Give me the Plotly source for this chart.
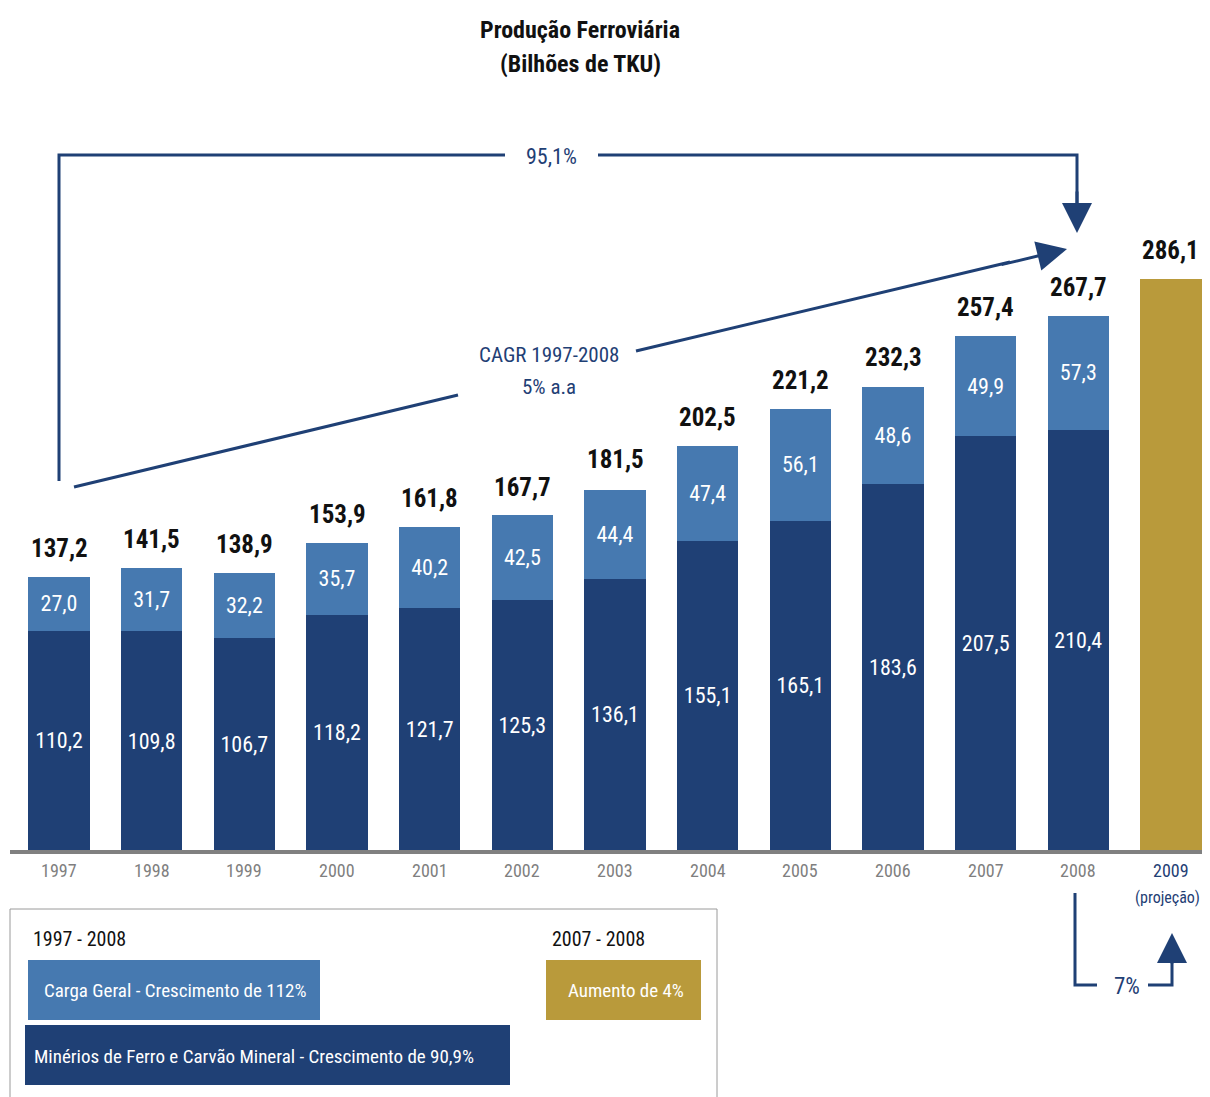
import plotly.graph_objects as go

years = ["1997", "1998", "1999", "2000", "2001", "2002", "2003", "2004",
         "2005", "2006", "2007", "2008", "2009"]
minerios = [110.2, 109.8, 106.7, 118.2, 121.7, 125.3, 136.1, 155.1,
            165.1, 183.6, 207.5, 210.4]
carga = [27.0, 31.7, 32.2, 35.7, 40.2, 42.5, 44.4, 47.4, 56.1, 48.6, 49.9, 57.3]
totais = [137.2, 141.5, 138.9, 153.9, 161.8, 167.7, 181.5, 202.5,
          221.2, 232.3, 257.4, 267.7, 286.1]
projecao = [286.1]

NAVY = "#1f4075"
LIGHT = "#4679b0"
GOLD = "#b99a3b"
GRAY = "#7f7f7f"
FONT = "Roboto Condensed, Open Sans Condensed, Roboto, sans-serif"

OFF = 8                      # page body margin
W, H = 1210 - OFF, 1097 - OFF
L_REF, T_REF, B_REF, R_REF = 10, 8, 851, 1210


def fmt(v):
    return f"{v:.1f}".replace(".", ",")


def px(x):
    return (x - L_REF) / (R_REF - L_REF)


def py(y):
    return (B_REF - y) / (B_REF - T_REF)


idx = list(range(len(years)))
fig = go.Figure()

fig.add_bar(x=idx[:12], y=minerios, marker_color=NAVY, width=0.66,
            marker_line_width=0,
            text=[fmt(v) for v in minerios], textposition="inside",
            insidetextanchor="middle", textangle=0,
            textfont=dict(family=FONT, size=22, color="white"),
            hoverinfo="skip", name="Minérios")
fig.add_bar(x=idx[:12], y=carga, marker_color=LIGHT, width=0.66,
            marker_line_width=0,
            text=[fmt(v) for v in carga], textposition="inside",
            insidetextanchor="middle", textangle=0,
            textfont=dict(family=FONT, size=22, color="white"),
            hoverinfo="skip", name="Carga")
fig.add_bar(x=[12], y=projecao, marker_color=GOLD, width=0.66,
            marker_line_width=0, hoverinfo="skip", name="Projeção")

ann = []


def label(x, y, text, size, color, xanchor="center", bold=False):
    t = f"<b>{text}</b>" if bold else text
    return dict(x=px(x), y=py(y), xref="paper", yref="paper", text=t,
                showarrow=False, xanchor=xanchor, yanchor="middle",
                font=dict(family=FONT, size=size, color=color))


# totals above bars
for i, t in enumerate(totais):
    ann.append(dict(x=i, y=t, xref="x", yref="y", text=f"<b>{fmt(t)}</b>",
                    showarrow=False, yanchor="bottom", yshift=12,
                    font=dict(family=FONT, size=25, color="#111111")))
# year labels
for i, yr in enumerate(years):
    col = NAVY if yr == "2009" else GRAY
    ann.append(dict(x=i, y=py(871), xref="x", yref="paper", text=yr,
                    showarrow=False, yanchor="middle",
                    font=dict(family=FONT, size=18, color=col)))
ann.append(dict(x=12, y=py(898), xref="x", yref="paper", text="(projeção)",
                showarrow=False, yanchor="middle", xshift=-3,
                font=dict(family=FONT, size=16, color=NAVY)))

# title
ann.append(label(580, 30, "Produção Ferroviária", 24, "#111111", bold=True))
ann.append(label(580, 64, "(Bilhões de TKU)", 24, "#111111", bold=True))

# growth labels
ann.append(label(551, 156, "95,1%", 22, NAVY))
ann.append(label(549, 355, "CAGR 1997-2008", 21, NAVY))
ann.append(label(549, 387, "5% a.a", 21, NAVY))
ann.append(label(1127, 987, "7%", 23, NAVY))


def arrow(hx, hy, tx, ty, size=2.0):
    return dict(x=px(hx), y=py(hy), xref="paper", yref="paper",
                ax=tx - hx, ay=ty - hy, axref="pixel", ayref="pixel",
                text="", showarrow=True, arrowhead=2, arrowsize=size,
                arrowwidth=3, arrowcolor=NAVY, standoff=0, startstandoff=0)


ann.append(arrow(1077, 233, 1077, 190))
ann.append(arrow(1067, 249, 1000, 265))
ann.append(arrow(1172, 933, 1172, 965))

# legend texts
ann.append(label(31, 939, "1997 - 2008", 20, "#111111", xanchor="left"))
ann.append(label(550, 939, "2007 - 2008", 20, "#111111", xanchor="left"))
ann.append(label(42, 991, "Carga Geral - Crescimento de 112%", 19, "white",
                 xanchor="left"))
ann.append(label(32, 1056, "Minérios de Ferro e Carvão Mineral - Crescimento de 90,9%",
                 19, "white", xanchor="left"))
ann.append(label(566, 991, "Aumento de 4%", 19, "white", xanchor="left"))

shapes = []


def line_path(points, width=3):
    d = "M " + " L ".join(f"{px(x)},{py(y)}" for x, y in points)
    return dict(type="path", path=d, xref="paper", yref="paper",
                line=dict(color=NAVY, width=width))


# 95,1% bracket
shapes.append(line_path([(59, 481), (59, 155), (505, 155)]))
shapes.append(line_path([(598, 155), (1077, 155), (1077, 205)]))
# CAGR line
shapes.append(line_path([(74, 487), (458, 395)]))
shapes.append(line_path([(636, 351), (1010, 262)]))
# 7% bracket
shapes.append(line_path([(1075, 893), (1075, 985), (1097, 985)]))
shapes.append(line_path([(1148, 985), (1172, 985), (1172, 955)]))
# axis line
shapes.append(dict(type="line", xref="paper", yref="paper",
                   x0=px(10), x1=px(1210), y0=py(852), y1=py(852),
                   line=dict(color="#808080", width=4)))
# legend box and swatches
shapes.append(dict(type="rect", xref="paper", yref="paper",
                   x0=px(10), x1=px(717), y0=py(909), y1=py(1100),
                   line=dict(color="#9a9a9a", width=1), fillcolor="rgba(0,0,0,0)"))
shapes.append(dict(type="rect", xref="paper", yref="paper",
                   x0=px(28), x1=px(320), y0=py(960), y1=py(1020),
                   line=dict(width=0), fillcolor=LIGHT))
shapes.append(dict(type="rect", xref="paper", yref="paper",
                   x0=px(25), x1=px(510), y0=py(1025), y1=py(1085),
                   line=dict(width=0), fillcolor=NAVY))
shapes.append(dict(type="rect", xref="paper", yref="paper",
                   x0=px(546), x1=px(701), y0=py(960), y1=py(1020),
                   line=dict(width=0), fillcolor=GOLD))

fig.update_layout(
    width=W, height=H, barmode="stack", showlegend=False,
    margin=dict(l=L_REF - OFF, r=0, t=T_REF - OFF, b=1097 - B_REF, pad=0),
    paper_bgcolor="white", plot_bgcolor="white",
    xaxis=dict(range=[-0.529, 12.421], showgrid=False, zeroline=False,
               showticklabels=False, fixedrange=True),
    yaxis=dict(range=[0, (B_REF - T_REF) / 2.0], showgrid=False, zeroline=False,
               showticklabels=False, fixedrange=True),
    annotations=ann, shapes=shapes,
    uniformtext=dict(minsize=10, mode="show"),
)

fig.write_html("out.html")
